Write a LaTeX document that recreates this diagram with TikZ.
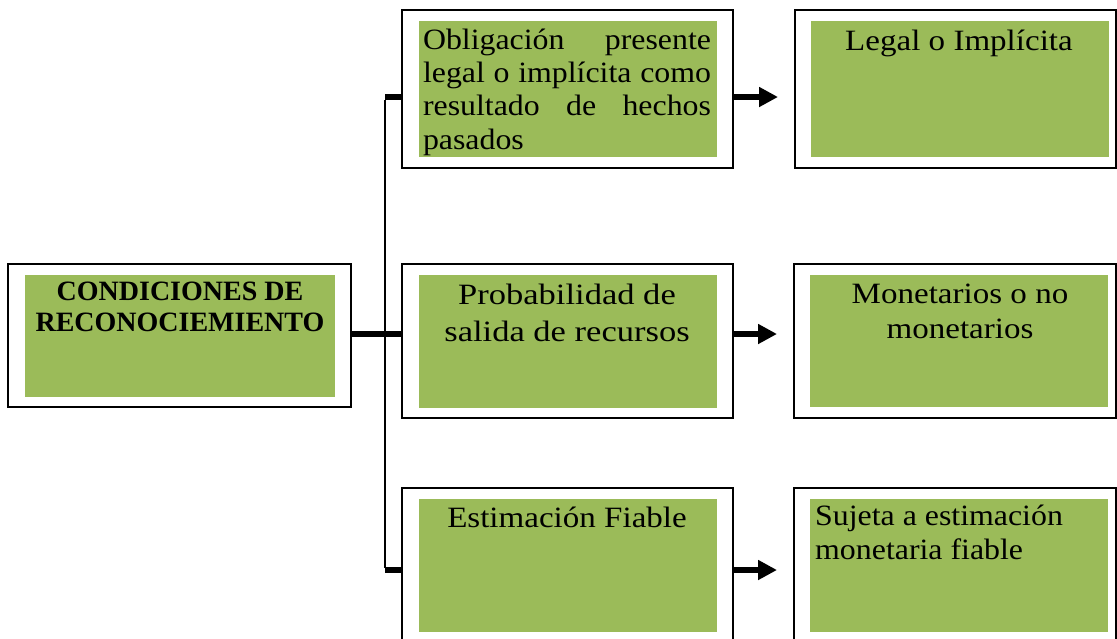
\documentclass[tikz,border=0pt]{standalone}
\usepackage{fontspec}
\setmainfont{Liberation Serif}
\newfontfamily\fa[FakeStretch=1.12]{Liberation Serif}
\newfontfamily\fb[FakeStretch=1.08]{Liberation Serif}
\newfontfamily\fc[FakeStretch=1.17]{Liberation Serif}
\usetikzlibrary{arrows.meta}
\definecolor{olivegreen}{HTML}{9BBB59}
\newcommand\tstrut{\rule{0pt}{24pt}}
\begin{document}
\begin{tikzpicture}[x=1pt,y=-1pt,
  outerbox/.style={draw=black, line width=2pt, fill=white, inner sep=0pt, rectangle},
  greenbox/.style={fill=olivegreen, draw=none, inner sep=0pt, rectangle},
  txt/.style={inner sep=0pt, anchor=north, text=black},
  trunk/.style={draw=black, line width=2.5pt},
  stub/.style={draw=black, line width=5.5pt},
  arr/.style={draw=black, line width=5.5pt, -{Triangle[length=19pt,width=19pt]}, shorten >=16pt}]
\clip (0,0) rectangle (1117,638);
\fill[white] (0,0) rectangle (1117,638);

% left box
\node[outerbox, minimum width=343pt, minimum height=143pt] (l) at (179.5,335.5) {};
\node[greenbox, minimum width=310pt, minimum height=122pt] (lg) at (180,336) {};
\node[txt, align=center, font=\bfseries\fontsize{28}{31}\selectfont] (lt) at (180,276) {\tstrut CONDICIONES DE\\RECONOCIEMIENTO};

% middle column
\node[outerbox, minimum width=331pt, minimum height=158pt] (m1) at (567.5,89) {};
\node[greenbox, minimum width=298pt, minimum height=136pt] (m1g) at (568,89) {};
\node[txt, align=left, font=\fb\fontsize{29.5}{33.3}\selectfont] (m1t) at (567,25)
  {\makebox[288pt][s]{\tstrut Obligación presente}\\
   \makebox[288pt][s]{legal o implícita como}\\
   \makebox[288pt][s]{resultado de hechos}\\
   \makebox[288pt][l]{pasados}};

\node[outerbox, minimum width=331pt, minimum height=154pt] (m2) at (567.5,341) {};
\node[greenbox, minimum width=298pt, minimum height=133pt] (m2g) at (568,341.5) {};
\node[txt, align=center, font=\fc\fontsize{29.5}{37}\selectfont] (m2t) at (567,280)
  {\tstrut Probabilidad de\\salida de recursos};

\node[outerbox, minimum width=331pt, minimum height=154pt] (m3) at (567.5,565) {};
\node[greenbox, minimum width=298pt, minimum height=133pt] (m3g) at (568,565.5) {};
\node[txt, align=center, font=\fa\fontsize{29.5}{34}\selectfont] (m3t) at (567,503)
  {\tstrut Estimación Fiable};

% right column
\node[outerbox, minimum width=321pt, minimum height=158pt] (r1) at (955.5,89) {};
\node[greenbox, minimum width=298pt, minimum height=136pt] (r1g) at (960,89) {};
\node[txt, align=center, font=\fa\fontsize{29.5}{34}\selectfont] (r1t) at (959,26)
  {\tstrut Legal o Implícita};

\node[outerbox, minimum width=322pt, minimum height=154pt] (r2) at (955,341) {};
\node[greenbox, minimum width=298pt, minimum height=132pt] (r2g) at (959,341) {};
\node[txt, align=center, font=\fa\fontsize{29.5}{35}\selectfont] (r2t) at (960,279)
  {\tstrut Monetarios o no\\monetarios};

\node[outerbox, minimum width=322pt, minimum height=154pt] (r3) at (955,565) {};
\node[greenbox, minimum width=298pt, minimum height=133pt] (r3g) at (959,565.5) {};
\node[txt, anchor=north west, align=left, font=\fb\fontsize{29.5}{34}\selectfont] (r3t) at (815,501)
  {\tstrut Sujeta a estimación\\monetaria fiable};

% connectors
\coordinate (j1) at (385,97);
\coordinate (j2) at (385,334);
\coordinate (j3) at (385,570);
\draw[trunk] ([yshift=-2.5pt]j1) -- ([yshift=2.5pt]j3);
\draw[stub] (j1) -- (j1 -| m1.west);
\draw[stub] (j3) -- (j3 -| m3.west);
\draw[stub] (j2 -| l.east) -- (j2 -| m2.west);

\draw[arr] (j1 -| m1.east) -- (j1 -| r1.west);
\draw[arr] (j2 -| m2.east) -- (j2 -| r2.west);
\draw[arr] (j3 -| m3.east) -- (j3 -| r3.west);
\end{tikzpicture}
\end{document}
